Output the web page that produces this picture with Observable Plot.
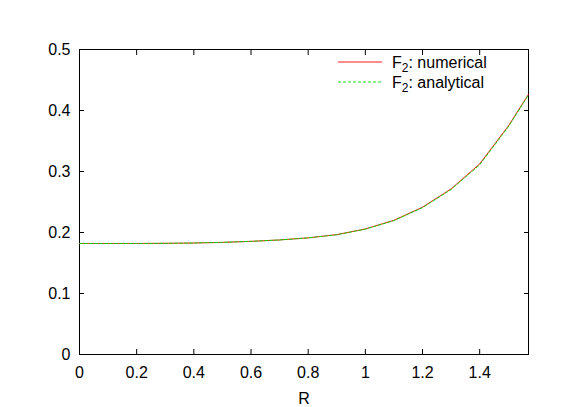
<!DOCTYPE html>
<html><head><meta charset="utf-8">
<script src="https://cdn.jsdelivr.net/npm/d3@7"></script>
<script src="https://cdn.jsdelivr.net/npm/@observablehq/plot@0.6"></script>
<style>
body{margin:0;background:#fff}
#wrap{position:relative;width:581px;height:407px;font-family:"Liberation Sans",Arial,Helvetica,sans-serif}
#legend{position:absolute;left:0;top:0;pointer-events:none}
</style>
</head><body><div id="wrap"></div>
<script>
const R = [0, 0.1, 0.2, 0.3, 0.4, 0.5, 0.6, 0.7, 0.8, 0.9, 1.0, 1.1, 1.2, 1.3, 1.4, 1.5, 1.5708];
const numerical = [0.182, 0.182, 0.182, 0.1823, 0.1828, 0.1838, 0.1855, 0.1878, 0.1912, 0.1965, 0.2058, 0.2200, 0.2415, 0.2715, 0.3125, 0.3745, 0.4265];
const analytical = [0.182, 0.182, 0.182, 0.1823, 0.1828, 0.1838, 0.1855, 0.1878, 0.1912, 0.1963, 0.2055, 0.2195, 0.2408, 0.2705, 0.3110, 0.3730, 0.4255];
const xTicks = [0, 0.2, 0.4, 0.6, 0.8, 1, 1.2, 1.4];
const yTicks = [0, 0.1, 0.2, 0.3, 0.4, 0.5];
const xLabel = "R";
const legendNames = ["numerical", "analytical"];
const legendColors = ["#ff0000", "#00dd00"];

const rows = R.map((r, i) => ({r, num: numerical[i], ana: analytical[i]}));
const fmt = d => String(d);

const chart = Plot.plot({
  width: 581,
  height: 407,
  marginLeft: 79,
  marginRight: 53,
  marginTop: 49,
  marginBottom: 53,
  style: {fontSize: "16px", fontFamily: "'Liberation Sans', Arial, Helvetica, sans-serif", color: "#000", background: "#fff"},
  x: {domain: [0, Math.PI / 2]},
  y: {domain: [0, 0.5]},
  marks: [
    Plot.frame({stroke: "#000", strokeWidth: 1}),
    Plot.axisX(xTicks, {anchor: "bottom", tickSize: 0, tickPadding: 12, tickFormat: fmt, label: xLabel, labelAnchor: "center", labelArrow: "none", labelOffset: 49}),
    Plot.axisX(xTicks, {anchor: "bottom", tickSize: -5, tickFormat: () => "", label: null, stroke: "#000"}),
    Plot.axisX(xTicks, {anchor: "top", tickSize: -5, tickFormat: () => "", label: null, stroke: "#000"}),
    Plot.axisY(yTicks, {anchor: "left", tickSize: 0, tickPadding: 9, tickFormat: fmt, label: null}),
    Plot.axisY(yTicks, {anchor: "left", tickSize: -5, tickFormat: () => "", label: null, stroke: "#000"}),
    Plot.axisY(yTicks, {anchor: "right", tickSize: -5, tickFormat: () => "", label: null, stroke: "#000"}),
    Plot.line(rows, {x: "r", y: "num", stroke: legendColors[0], strokeWidth: 0.9}),
    Plot.line(rows, {x: "r", y: "ana", stroke: legendColors[1], strokeWidth: 0.9, strokeDasharray: "3,2"})
  ]
});
const wrap = document.getElementById("wrap");
wrap.appendChild(chart);

const ns = "http://www.w3.org/2000/svg";
const leg = document.createElementNS(ns, "svg");
leg.setAttribute("id", "legend");
leg.setAttribute("width", 581);
leg.setAttribute("height", 407);
legendNames.forEach((name, i) => {
  const y = 62 + i * 20;
  const line = document.createElementNS(ns, "line");
  line.setAttribute("x1", 338); line.setAttribute("x2", 382);
  line.setAttribute("y1", y); line.setAttribute("y2", y);
  line.setAttribute("stroke", legendColors[i]);
  line.setAttribute("stroke-width", 0.9);
  if (i === 1) line.setAttribute("stroke-dasharray", "3,2");
  leg.appendChild(line);
  const t = document.createElementNS(ns, "text");
  t.setAttribute("x", 392); t.setAttribute("y", y + 6);
  t.setAttribute("font-size", 16);
  t.setAttribute("font-family", "'Liberation Sans', Arial, Helvetica, sans-serif");
  t.appendChild(document.createTextNode("F"));
  const sub = document.createElementNS(ns, "tspan");
  sub.setAttribute("font-size", 12);
  sub.setAttribute("dy", 4);
  sub.textContent = "2";
  t.appendChild(sub);
  const rest = document.createElementNS(ns, "tspan");
  rest.setAttribute("dy", -4);
  rest.textContent = ": " + name;
  t.appendChild(rest);
  leg.appendChild(t);
});
wrap.appendChild(leg);
</script>
</body></html>
